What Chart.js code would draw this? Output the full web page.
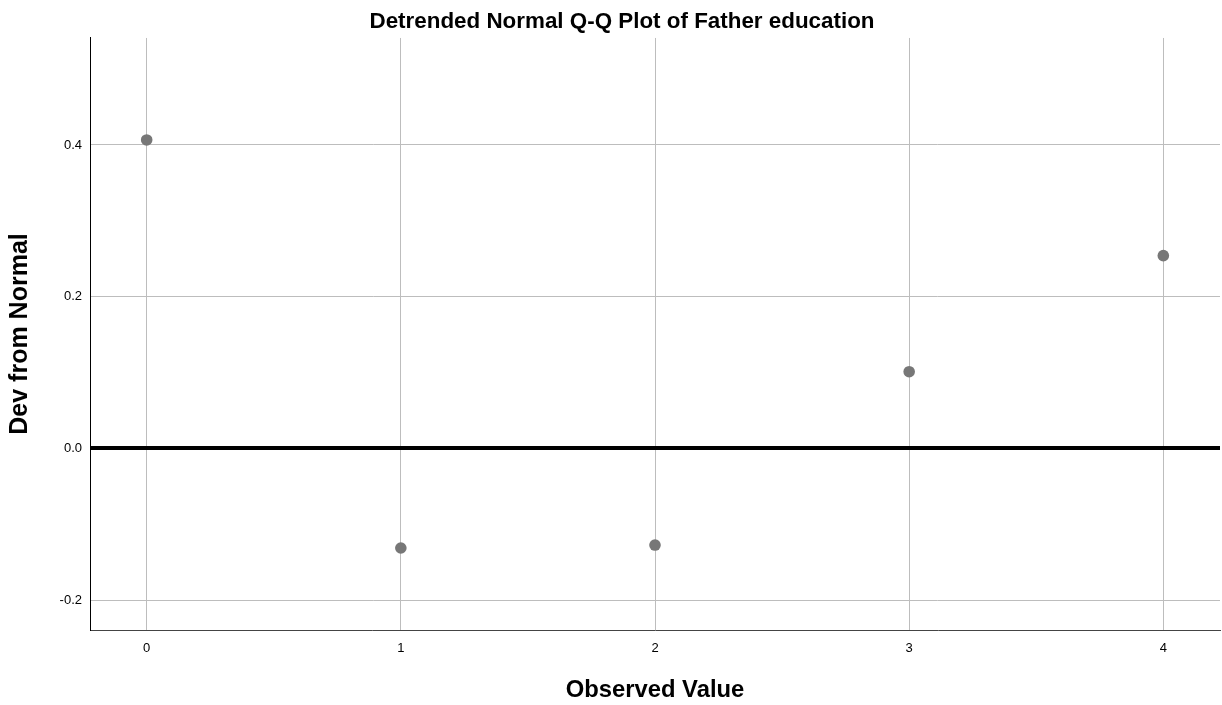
<!DOCTYPE html>
<html>
<head>
<meta charset="utf-8">
<script src="https://cdn.jsdelivr.net/npm/chart.js@4.4.1/dist/chart.umd.min.js"></script>
<style>
html,body{margin:0;padding:0;background:#fff;overflow:hidden;}
canvas{display:block;}
</style>
</head>
<body>
<canvas id="c" width="1222" height="705" style="width:1222px;height:705px"></canvas>
<script>
const observedValues = [0, 1, 2, 3, 4];
const devFromNormal = [0.4066, -0.1313, -0.1274, 0.1011, 0.2541];
const xTicks = [0, 1, 2, 3, 4];
const yTicks = [-0.2, 0.0, 0.2, 0.4];

const points = observedValues.map((x, i) => ({x: x, y: devFromNormal[i]}));
const FONT = "'Liberation Sans', Arial, sans-serif";

new Chart(document.getElementById('c'), {
  type: 'scatter',
  data: {
    datasets: [{
      data: points,
      backgroundColor: '#777777',
      borderWidth: 0,
      pointRadius: 5.8,
      pointHoverRadius: 5.8
    }]
  },
  options: {
    responsive: false,
    maintainAspectRatio: false,
    devicePixelRatio: 1,
    animation: false,
    layout: {autoPadding: false, padding: {left: 24, right: 2, top: 0, bottom: 0}},
    plugins: {
      legend: {display: false},
      tooltip: {enabled: false},
      title: {
        display: true,
        text: 'Detrended Normal Q-Q Plot of Father education',
        color: '#000',
        font: {family: FONT, size: 22.4, weight: 'bold', lineHeight: 1.2},
        padding: {top: 8.5, bottom: 2.6}
      }
    },
    scales: {
      x: {
        type: 'linear',
        min: -0.223,
        max: 4.223,
        afterBuildTicks: s => { s.ticks = xTicks.map(v => ({value: v})); },
        afterFit: s => { s.height = 75; s.paddingLeft = 0; s.paddingRight = 0; },
        ticks: {
          color: '#000',
          font: {family: FONT, size: 13},
          padding: 11,
          maxRotation: 0,
          callback: v => String(v)
        },
        grid: {color: '#bdbdbd', lineWidth: 1, drawTicks: false},
        border: {display: true, color: '#444', width: 1},
        title: {
          display: true,
          text: 'Observed Value',
          color: '#000',
          font: {family: FONT, size: 23.8, weight: 'bold', lineHeight: 1.2},
          padding: {top: 4, bottom: 0}
        }
      },
      y: {
        type: 'linear',
        min: -0.2394,
        max: 0.541,
        afterBuildTicks: s => { s.ticks = yTicks.map(v => ({value: v})); },
        afterFit: s => { s.width = 66; s.paddingTop = 0; s.paddingBottom = 0; },
        ticks: {
          color: '#000',
          font: {family: FONT, size: 13},
          padding: 8,
          callback: v => Number(v).toFixed(1)
        },
        grid: {
          color: ctx => (ctx.tick && Math.abs(ctx.tick.value) < 1e-9) ? '#000' : '#bdbdbd',
          lineWidth: ctx => (ctx.tick && Math.abs(ctx.tick.value) < 1e-9) ? 4 : 1,
          drawTicks: false
        },
        border: {display: true, color: '#000', width: 1},
        title: {
          display: true,
          text: 'Dev from Normal',
          color: '#000',
          font: {family: FONT, size: 25, weight: 'bold', lineHeight: 1.2},
          padding: {top: -18.5, bottom: 0}
        }
      }
    }
  }
});
</script>
</body>
</html>
